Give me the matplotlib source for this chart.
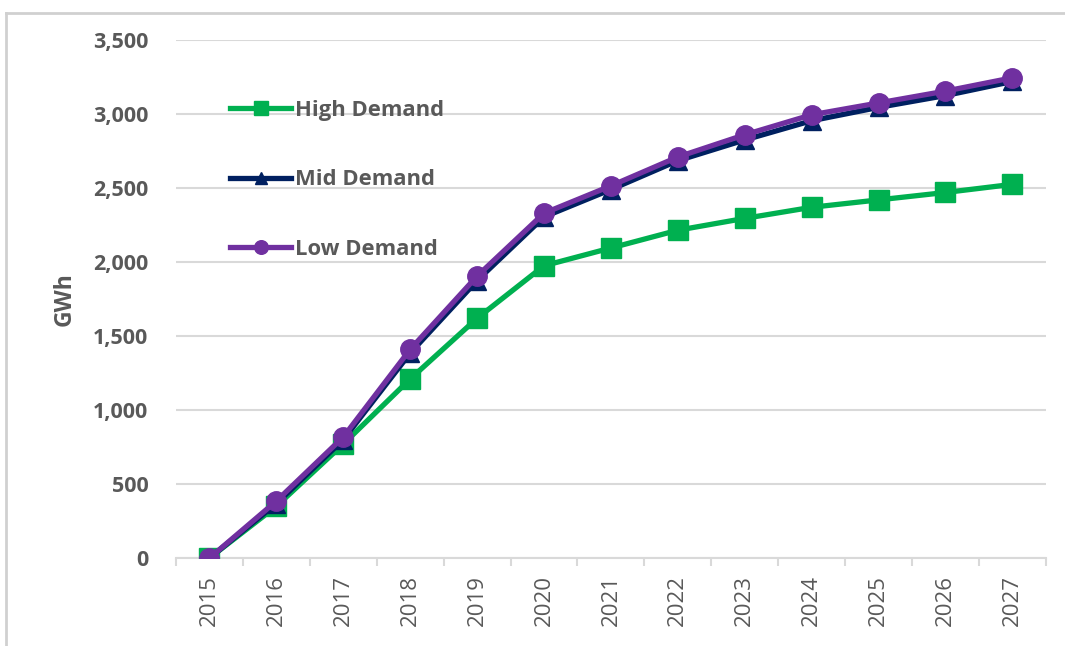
import matplotlib.pyplot as plt
from matplotlib.lines import Line2D
import numpy as np

plt.rcParams['font.family'] = ['Open Sans', 'DejaVu Sans']

years = ['2015', '2016', '2017', '2018', '2019', '2020', '2021',
         '2022', '2023', '2024', '2025', '2026', '2027']
high_demand = [0, 350, 770, 1210, 1620, 1975, 2095, 2215, 2295, 2370, 2420, 2470, 2525]
mid_demand = [0, 368, 800, 1385, 1875, 2305, 2490, 2685, 2825, 2955, 3045, 3125, 3220]
low_demand = [0, 385, 818, 1410, 1905, 2330, 2515, 2710, 2860, 2995, 3075, 3155, 3245]

text_gray = '#595959'
grid_gray = '#d9d9d9'

fig = plt.figure(figsize=(10.65, 6.46), dpi=100)
# outer chart frame (top and left edges)
fig.add_artist(Line2D([0.006, 1.0], [0.98, 0.98], transform=fig.transFigure,
                      color='#d0d0d0', lw=2))
fig.add_artist(Line2D([0.006, 0.006], [0.0, 0.98], transform=fig.transFigure,
                      color='#d0d0d0', lw=2))
ax = fig.add_axes([0.1653, 0.1362, 0.8167, 0.8018])

x = np.arange(len(years))
ax.plot(x, high_demand, color='#00b050', lw=3.8, marker='s', ms=15,
        label='High Demand', zorder=3)
ax.plot(x, mid_demand, color='#002060', lw=3.8, marker='^', ms=13,
        label='Mid Demand', zorder=4)
ax.plot(x, low_demand, color='#7030a0', lw=3.8, marker='o', ms=14,
        label='Low Demand', zorder=5)

ax.set_xlim(-0.5, len(years) - 0.5)
ax.set_ylim(0, 3500)
ax.set_yticks(np.arange(0, 3501, 500))
ax.yaxis.set_major_formatter(plt.FuncFormatter(lambda v, p: f'{int(v):,}'))
ax.set_xticks(x)
ax.set_xticklabels(years, rotation=90)
ax.set_xticks(np.arange(-0.5, len(years)), minor=True)

ax.grid(axis='y', color=grid_gray, lw=1.5)
ax.set_axisbelow(True)
for s in ['top', 'right', 'left']:
    ax.spines[s].set_visible(False)
ax.spines['bottom'].set_color(grid_gray)
ax.spines['bottom'].set_linewidth(1.5)

ax.tick_params(axis='y', length=0, pad=20, labelsize=15.5, labelcolor=text_gray)
ax.tick_params(axis='x', which='major', length=0, pad=12, labelsize=16,
               labelcolor=text_gray)
ax.tick_params(axis='x', which='minor', length=6, width=1.5, color=grid_gray)
for lab in ax.get_yticklabels():
    lab.set_fontweight('bold')

ax.set_ylabel('GWh', fontsize=16.5, fontweight='bold', color=text_gray, labelpad=12)

leg = ax.legend(loc='upper left', bbox_to_anchor=(0.216, 0.845),
                bbox_transform=fig.transFigure, frameon=False, fontsize=15.8,
                labelspacing=2.2, handlelength=2.8, handletextpad=0.18,
                markerscale=0.7, borderpad=0, borderaxespad=0)
for t in leg.get_texts():
    t.set_color(text_gray)
    t.set_fontweight('bold')

fig.savefig('out.png', dpi=100)
